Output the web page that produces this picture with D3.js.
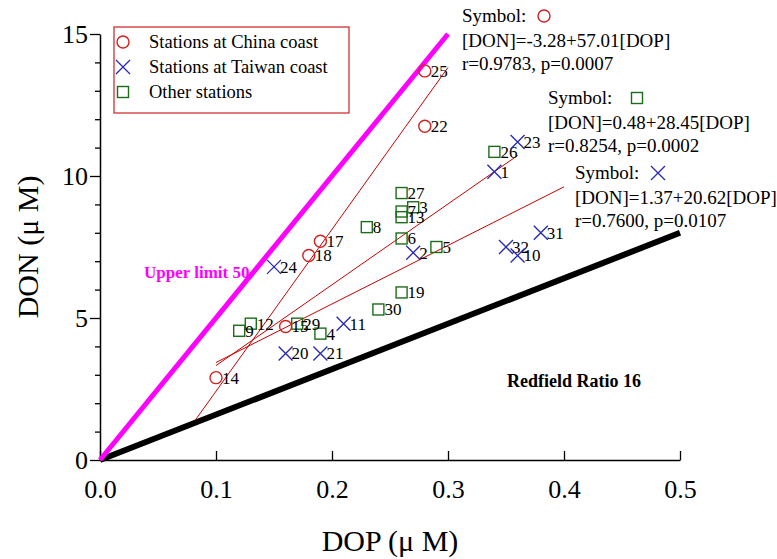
<!DOCTYPE html>
<html>
<head>
<meta charset="utf-8">
<script src="https://cdn.jsdelivr.net/npm/d3@7"></script>
<style>
  body { margin: 0; background: #fff; }
  svg text { font-family: "Liberation Serif", "Times New Roman", serif; }
</style>
</head>
<body>
<div id="chart"></div>
<script>
// station data: [station, DOP, DON]
var chinaStations = [[25, 0.28, 13.7], [22, 0.28, 11.75], [17, 0.19, 7.7], [18, 0.18, 7.2], [14, 0.10, 2.9], [15, 0.16, 4.7]];
var taiwanStations = [[23, 0.36, 11.2], [1, 0.34, 10.15], [24, 0.15, 6.8], [2, 0.27, 7.3], [32, 0.35, 7.5],
  [10, 0.36, 7.2], [31, 0.38, 8.0], [11, 0.21, 4.8], [20, 0.16, 3.75], [21, 0.19, 3.75]];
var otherStations = [[26, 0.34, 10.85], [27, 0.26, 9.4], [3, 0.27, 8.9], [7, 0.26, 8.75], [13, 0.26, 8.55],
  [8, 0.23, 8.2], [6, 0.26, 7.8], [5, 0.29, 7.5], [19, 0.26, 5.9], [30, 0.24, 5.3], [4, 0.19, 4.45],
  [29, 0.17, 4.8], [12, 0.13, 4.8], [9, 0.12, 4.55]];

// fitted lines: intercept, slope, DOP range
var fitChina = [-3.28, 57.01, 0.082, 0.30];
var fitOther = [0.48, 28.45, 0.10, 0.36];
var fitTaiwan = [1.37, 20.62, 0.10, 0.40];

// reference ratio lines (DON/DOP) and their extent
var upperLimit = [50, 0.30];
var redfield = [16, 0.50];

var xTicks = [0, 0.1, 0.2, 0.3, 0.4, 0.5];
var yTicks = [0, 5, 10, 15];

var W = 777, H = 559;
var margin = { top: 34, right: 97, bottom: 99, left: 100 };

var svg = d3.select("#chart").append("svg")
  .attr("width", W)
  .attr("height", H);

var x = d3.scaleLinear().domain([0, 0.5]).range([margin.left, W - margin.right]);
var y = d3.scaleLinear().domain([0, 15]).range([H - margin.bottom, margin.top]);

// axes
var xAxis = svg.append("g")
  .attr("transform", "translate(0," + y(0) + ")")
  .call(d3.axisBottom(x).tickValues(xTicks).tickFormat(d3.format(".1f")).tickSizeInner(-9).tickSizeOuter(0));
xAxis.selectAll("text").attr("y", 20).attr("dy", "0.71em").attr("font-size", 26).attr("fill", "#000");

var yAxis = svg.append("g")
  .attr("transform", "translate(" + x(0) + ",0)")
  .call(d3.axisLeft(y).tickValues(yTicks).tickFormat(d3.format("d")).tickSize(10).tickSizeOuter(0));
yAxis.selectAll("text").attr("x", -12).attr("font-size", 26).attr("fill", "#000");

// minor ticks on DON axis
svg.append("g")
  .attr("transform", "translate(" + x(0) + ",0)")
  .call(d3.axisLeft(y).tickValues(d3.range(1, 15).filter(function (d) { return d % 5; }))
    .tickFormat("").tickSize(5).tickSizeOuter(0))
  .select(".domain").remove();

svg.selectAll(".domain").attr("stroke", "#000").attr("stroke-width", 1.5);
svg.selectAll(".tick line").attr("stroke", "#000").attr("stroke-width", 1.3);

// axis titles
svg.append("text")
  .attr("x", (x(0) + x(0.5)) / 2)
  .attr("y", 551)
  .attr("text-anchor", "middle")
  .attr("font-size", 30)
  .text("DOP (\u03bc M)");

svg.append("text")
  .attr("transform", "translate(38," + y(7.5) + ") rotate(-90)")
  .attr("text-anchor", "middle")
  .attr("font-size", 30)
  .text("DON (\u03bc M)");

// ratio lines
function ratioLine(r, color, w) {
  svg.append("line")
    .attr("x1", x(0)).attr("y1", y(0))
    .attr("x2", x(r[1])).attr("y2", y(r[0] * r[1]))
    .attr("stroke", color)
    .attr("stroke-width", w);
}
ratioLine(redfield, "#000", 6);
ratioLine(upperLimit, "#ff00ff", 5);

svg.append("text")
  .attr("x", 144).attr("y", 278)
  .attr("font-size", 17).attr("font-weight", "bold").attr("fill", "#ff00ff")
  .text("Upper limit 50");
svg.append("text")
  .attr("x", 507).attr("y", 387)
  .attr("font-size", 18).attr("font-weight", "bold").attr("fill", "#000")
  .text("Redfield Ratio 16");

// regression lines
[fitChina, fitOther, fitTaiwan].forEach(function (f) {
  svg.append("line")
    .attr("x1", x(f[2])).attr("y1", y(f[0] + f[1] * f[2]))
    .attr("x2", x(f[3])).attr("y2", y(f[0] + f[1] * f[3]))
    .attr("stroke", "#cc0000")
    .attr("stroke-width", 1);
});

// markers
var red = "#d42020", blue = "#2626b8", green = "#1a6e1a";

function drawCircle(g, cx, cy) {
  g.append("circle").attr("cx", cx).attr("cy", cy).attr("r", 6)
    .attr("fill", "none").attr("stroke", red).attr("stroke-width", 1.4);
}
function drawCross(g, cx, cy) {
  var s = 7;
  g.append("path")
    .attr("d", "M" + (cx - s) + "," + (cy - s) + "L" + (cx + s) + "," + (cy + s) +
      "M" + (cx - s) + "," + (cy + s) + "L" + (cx + s) + "," + (cy - s))
    .attr("stroke", blue).attr("stroke-width", 1.3).attr("fill", "none");
}
function drawSquare(g, cx, cy) {
  g.append("rect").attr("x", cx - 5.5).attr("y", cy - 5.5).attr("width", 11).attr("height", 11)
    .attr("fill", "none").attr("stroke", green).attr("stroke-width", 1.4);
}

var pts = svg.append("g");
function plotGroup(data, draw) {
  data.forEach(function (d) {
    draw(pts, x(d[1]), y(d[2]));
    pts.append("text")
      .attr("x", x(d[1]) + 6)
      .attr("y", y(d[2]))
      .attr("dy", "0.35em")
      .attr("font-size", 17)
      .text(d[0]);
  });
}
plotGroup(otherStations, drawSquare);
plotGroup(taiwanStations, drawCross);
plotGroup(chinaStations, drawCircle);

// legend
var legend = svg.append("g");
legend.append("rect")
  .attr("x", 114).attr("y", 27).attr("width", 235).attr("height", 86)
  .attr("fill", "#fff").attr("stroke", "#cc2020").attr("stroke-width", 1.2);
var legendItems = [["Stations at China coast", drawCircle], ["Stations at Taiwan coast", drawCross], ["Other stations", drawSquare]];
legendItems.forEach(function (it, i) {
  var cy = 42 + i * 25;
  it[1](legend, 123, cy);
  legend.append("text")
    .attr("x", 149).attr("y", cy).attr("dy", "0.35em")
    .attr("font-size", 18.5)
    .text(it[0]);
});

// fit annotations
var notes = [
  { x: 462, y: 22, draw: drawCircle, sx: 544, eq: "[DON]=-3.28+57.01[DOP]", r: "r=0.9783, p=0.0007" },
  { x: 548, y: 104, draw: drawSquare, sx: 637, eq: "[DON]=0.48+28.45[DOP]", r: "r=0.8254, p=0.0002" },
  { x: 575, y: 179, draw: drawCross, sx: 658, eq: "[DON]=1.37+20.62[DOP]", r: "r=0.7600, p=0.0107" }
];
notes.forEach(function (n) {
  var g = svg.append("g");
  g.append("text").attr("x", n.x).attr("y", n.y).attr("font-size", 19).text("Symbol:");
  n.draw(g, n.sx, n.y - 6);
  g.append("text").attr("x", n.x).attr("y", n.y + 25).attr("font-size", 19).text(n.eq);
  g.append("text").attr("x", n.x).attr("y", n.y + 48).attr("font-size", 19).text(n.r);
});
</script>
</body>
</html>
